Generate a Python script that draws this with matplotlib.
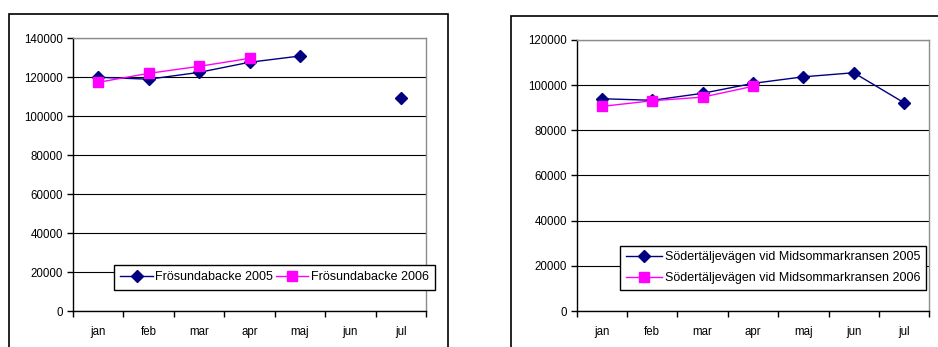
import numpy as np
import matplotlib.pyplot as plt
import matplotlib.patches as patches

plt.rcParams['font.family'] = ['Liberation Sans', 'DejaVu Sans']

months = ["jan", "feb", "mar", "apr", "maj", "jun", "jul"]

# Frösundabacke (left)
fros_2005 = [120000, 119000, 122500, 127700, 130900, np.nan, 109200]
fros_2006 = [117400, 122000, 125600, 129700, np.nan, np.nan, np.nan]

# Södertäljevägen vid Midsommarkransen (right)
sod_2005 = [94000, 93300, 96400, 100800, 103700, 105500, 92200]
sod_2006 = [90600, 93100, 94700, 99500, np.nan, np.nan, np.nan]

W, H = 938, 347
fig = plt.figure(figsize=(W / 100, H / 100), dpi=100)

# outer chart frames
fig.patches.append(patches.Rectangle((9 / W, -0.05), (448 - 9) / W, 1 - 14 / H + 0.05,
                                     transform=fig.transFigure, fill=False, ec="black", lw=1.2))
fig.patches.append(patches.Rectangle((511 / W, -0.05), (940 - 511) / W, 1 - 16 / H + 0.05,
                                     transform=fig.transFigure, fill=False, ec="black", lw=1.2))


def style_ax(ax, ymax, step):
    x = np.arange(len(months))
    ax.set_xlim(-0.5, len(months) - 0.5)
    ax.set_ylim(0, ymax)
    ax.set_yticks(np.arange(0, ymax + 1, step))
    ax.set_xticks(x)
    ax.set_xticklabels(months)
    ax.set_xticks(np.arange(-0.5, len(months), 1), minor=True)
    ax.tick_params(axis="x", which="major", length=0, pad=11, labelsize=8.3)
    ax.tick_params(axis="x", which="minor", length=4, direction="out", width=1)
    ax.tick_params(axis="y", length=4, width=1, pad=3, labelsize=8.3)
    ax.yaxis.grid(True, color="black", lw=0.8)
    ax.set_axisbelow(True)
    for s in ["top", "right"]:
        ax.spines[s].set_color("#8c8c8c")
    for s in ["left", "bottom"]:
        ax.spines[s].set_color("black")
    for s in ax.spines.values():
        s.set_linewidth(1)


x = np.arange(len(months))

ax1 = fig.add_axes([73 / W, 1 - 311 / H, (426 - 73) / W, (311 - 38.3) / H])
style_ax(ax1, 140000, 20000)
l1, = ax1.plot(x, fros_2005, color="#000080", marker="D", ms=6.5, lw=1, label="Frösundabacke 2005")
l2, = ax1.plot(x, fros_2006, color="#ff00ff", marker="s", ms=6.5, lw=1, label="Frösundabacke 2006")
ax1.legend(handles=[l1, l2], ncol=2, loc="upper left",
           bbox_to_anchor=(114 / W, 1 - 265 / H), bbox_transform=fig.transFigure,
           fontsize=9, frameon=True, fancybox=False, edgecolor="black", framealpha=1,
           handlelength=2.6, handletextpad=0.2, columnspacing=0.2, borderpad=0.5,
           borderaxespad=0).get_frame().set_linewidth(1)

ax2 = fig.add_axes([576.7 / W, 1 - 311 / H, (929.3 - 576.7) / W, (311 - 40) / H])
style_ax(ax2, 120000, 20000)
l3, = ax2.plot(x, sod_2005, color="#000080", marker="D", ms=6.5, lw=1,
               label="Södertäljevägen vid Midsommarkransen 2005")
l4, = ax2.plot(x, sod_2006, color="#ff00ff", marker="s", ms=6.5, lw=1,
               label="Södertäljevägen vid Midsommarkransen 2006")
ax2.legend(handles=[l3, l4], loc="upper left",
           bbox_to_anchor=(620 / W, 1 - 245.7 / H), bbox_transform=fig.transFigure,
           fontsize=9, frameon=True, fancybox=False, edgecolor="black", framealpha=1,
           handlelength=2.9, handletextpad=0.25, labelspacing=0.7, borderpad=0.45,
           borderaxespad=0).get_frame().set_linewidth(1)

fig.savefig("out.png", dpi=100)
